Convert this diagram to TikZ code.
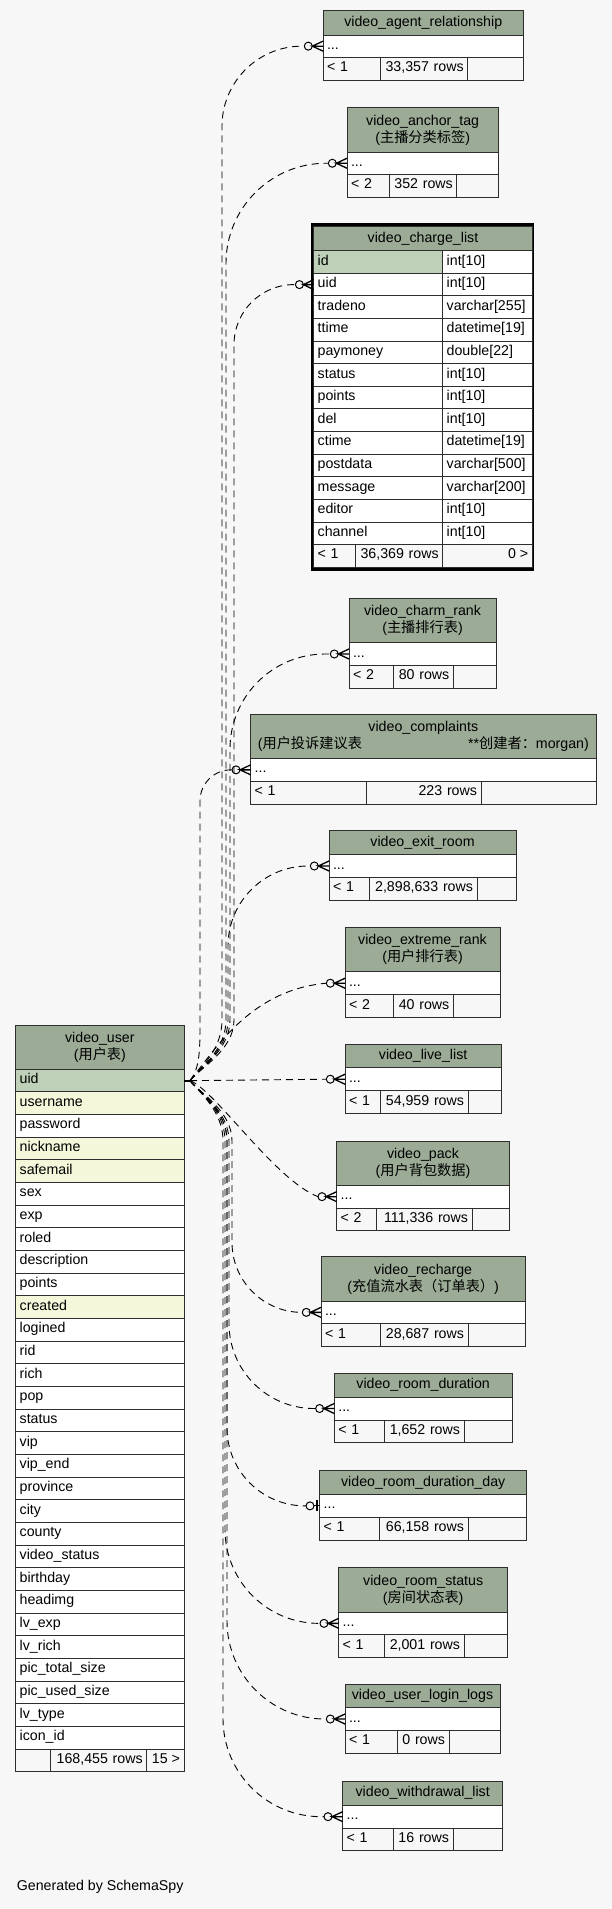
\documentclass[tikz,border=0pt]{standalone}
\usepackage{fontspec}
\setmainfont{Liberation Sans}
\newfontfamily\cjk{Noto Sans CJK SC}
\usepackage{tikz}
\usetikzlibrary{positioning,calc}
\definecolor{schemabg}{HTML}{F7F7F7}
\definecolor{tablehead}{HTML}{9BAB96}
\definecolor{primarykey}{HTML}{BED1B8}
\definecolor{indexcol}{HTML}{F4F7DA}
\definecolor{gridline}{HTML}{2E2E2E}

\tikzset{
  cellbox/.style={draw=gridline, line width=1pt, outer sep=0pt, inner xsep=4pt, inner ysep=0pt,
    anchor=north west, font=\fontsize{14.2}{17}\selectfont, text height=10pt, text depth=4pt},
  headbox/.style={draw=gridline, line width=1pt, outer sep=0pt, inner sep=0pt, anchor=north west,
    fill=tablehead, align=center, font=\fontsize{14.2}{17}\selectfont},
  odot/.style={circle, draw=black, fill=schemabg, line width=1pt, minimum size=8pt, inner sep=0pt, outer sep=0pt},
  reldash/.style={draw=black, line width=0.9pt, dash pattern=on 7pt off 5pt},
  crowline/.style={draw=black, line width=1.3pt},
}

% one cell: name, x, y, width, height, fill, align, text
\newcommand{\dbcell}[8]{%
  \pgfmathsetmacro{\cellw}{#4-8}%
  \node[cellbox, fill=#6, text width=\cellw pt, align=#7, minimum height=#5pt] (#1) at (#2,#3) {#8};}
% header and "..." row: name, x0, x1, ytop, yhead, yrow, title
\newcommand{\dbtop}[7]{%
  \pgfmathsetmacro{\tabw}{#3-#2}\pgfmathsetmacro{\headh}{#5-#4}\pgfmathsetmacro{\rowh}{#6-#5}%
  \node[headbox, minimum width=\tabw pt, minimum height=\headh pt] (#1-head) at (#2,#4) {#7};
  \dbcell{#1-row}{#2}{#5}{\tabw}{\rowh}{white}{left}{...}}
% footer: name, x0, split1, split2, x1, yrow, ybot, left text, rows text
\newcommand{\dbfoot}[9]{%
  \pgfmathsetmacro{\footh}{#7-#6}\pgfmathsetmacro{\footwa}{#3-#2}%
  \pgfmathsetmacro{\footwb}{#4-#3}\pgfmathsetmacro{\footwc}{#5-#4}%
  \dbcell{#1-fa}{#2}{#6}{\footwa}{\footh}{schemabg}{left}{#8}
  \dbcell{#1-fb}{#3}{#6}{\footwb}{\footh}{schemabg}{right}{#9}
  \dbcell{#1-fc}{#4}{#6}{\footwc}{\footh}{schemabg}{right}{}}
% crow's foot between circle and row
\newcommand{\crowfoot}[2]{%
  \draw[crowline] (#2.west) -- (#1.east) -- ($(#2.west)+(0,5)$) (#1.east) -- ($(#2.west)+(0,-5)$);}
% edge from uid: circle, column x, target y, corner radius
\newcommand{\upedge}[4]{%
  \draw[reldash] (uidtail) .. controls (200,1068) and (#2,1050) .. (#2,1020) -- (#2,{#3+#4})
    .. controls (#2,{#3+0.448*#4}) and ({#2+0.448*#4},#3) .. ({#2+#4},#3) -- (#1.west);}
\newcommand{\downedge}[4]{%
  \draw[reldash] (uidtail) .. controls (200,1093) and (#2,1111) .. (#2,1141) -- (#2,{#3-#4})
    .. controls (#2,{#3-0.448*#4}) and ({#2+0.448*#4},#3) .. ({#2+#4},#3) -- (#1.west);}

\begin{document}
\begin{tikzpicture}[x=1pt, y=-1pt]
  \path[use as bounding box, fill=schemabg] (0,0) rectangle (612,1909);

  % tables on the right
  \dbtop{agent}{323}{523.5}{10.3}{35}{57.3}{video\_agent\_relationship}
  \dbfoot{agent}{323}{380}{467.7}{523.5}{57.3}{80}{< 1}{33,357 rows}
  \dbtop{anchor}{347}{498.3}{107.7}{152}{174.5}{video\_anchor\_tag\\({\cjk 主播分类标签})}
  \dbfoot{anchor}{347}{389.3}{456.8}{498.3}{174.5}{197}{< 2}{352 rows}

  \node[draw=black, line width=2.7pt, outer sep=0pt, inner sep=0pt, minimum width=220.7pt,
    minimum height=344.7pt, anchor=north west] (charge-frame) at (312.35,224.65) {};
  \node[headbox, minimum width=218.6pt, minimum height=24.7pt] (charge-head) at (313.7,226) {video\_charge\_list};
  \dbcell{charge-id}{313.7}{250.70}{129}{22.61}{primarykey}{left}{id}
  \dbcell{charge-idt}{442.7}{250.70}{89.6}{22.61}{white}{left}{int[10]}
  \dbcell{charge-uid}{313.7}{273.31}{129}{22.61}{white}{left}{uid}
  \dbcell{charge-uidt}{442.7}{273.31}{89.6}{22.61}{white}{left}{int[10]}
  \dbcell{charge-tradeno}{313.7}{295.92}{129}{22.61}{white}{left}{tradeno}
  \dbcell{charge-tradenot}{442.7}{295.92}{89.6}{22.61}{white}{left}{varchar[255]}
  \dbcell{charge-ttime}{313.7}{318.53}{129}{22.61}{white}{left}{ttime}
  \dbcell{charge-ttimet}{442.7}{318.53}{89.6}{22.61}{white}{left}{datetime[19]}
  \dbcell{charge-paymoney}{313.7}{341.14}{129}{22.61}{white}{left}{paymoney}
  \dbcell{charge-paymoneyt}{442.7}{341.14}{89.6}{22.61}{white}{left}{double[22]}
  \dbcell{charge-status}{313.7}{363.75}{129}{22.61}{white}{left}{status}
  \dbcell{charge-statust}{442.7}{363.75}{89.6}{22.61}{white}{left}{int[10]}
  \dbcell{charge-points}{313.7}{386.36}{129}{22.61}{white}{left}{points}
  \dbcell{charge-pointst}{442.7}{386.36}{89.6}{22.61}{white}{left}{int[10]}
  \dbcell{charge-del}{313.7}{408.97}{129}{22.61}{white}{left}{del}
  \dbcell{charge-delt}{442.7}{408.97}{89.6}{22.61}{white}{left}{int[10]}
  \dbcell{charge-ctime}{313.7}{431.58}{129}{22.61}{white}{left}{ctime}
  \dbcell{charge-ctimet}{442.7}{431.58}{89.6}{22.61}{white}{left}{datetime[19]}
  \dbcell{charge-postdata}{313.7}{454.19}{129}{22.61}{white}{left}{postdata}
  \dbcell{charge-postdatat}{442.7}{454.19}{89.6}{22.61}{white}{left}{varchar[500]}
  \dbcell{charge-message}{313.7}{476.80}{129}{22.61}{white}{left}{message}
  \dbcell{charge-messaget}{442.7}{476.80}{89.6}{22.61}{white}{left}{varchar[200]}
  \dbcell{charge-editor}{313.7}{499.41}{129}{22.61}{white}{left}{editor}
  \dbcell{charge-editort}{442.7}{499.41}{89.6}{22.61}{white}{left}{int[10]}
  \dbcell{charge-channel}{313.7}{522.02}{129}{22.61}{white}{left}{channel}
  \dbcell{charge-channelt}{442.7}{522.02}{89.6}{22.61}{white}{left}{int[10]}
  \dbfoot{charge}{313.7}{355}{442.7}{532.3}{544.63}{567.24}{< 1}{36,369 rows}
  \node[cellbox, anchor=east, draw=none, inner xsep=0pt] (charge-next) at (528.3,555.9) {0 >};

  \dbtop{charm}{349}{496}{598.7}{642.7}{665.3}{video\_charm\_rank\\({\cjk 主播排行表})}
  \dbfoot{charm}{349}{393.3}{453.3}{496}{665.3}{688}{< 2}{80 rows}
  \dbtop{complaints}{250.7}{596}{714.7}{758.7}{781}{video\_complaints\\\makebox[331pt]{({\cjk 用户投诉建议表}\hfill **{\cjk 创建者：}morgan)}}
  \dbfoot{complaints}{250.7}{366.7}{481}{596}{781}{804}{< 1}{223 rows}
  \dbtop{exit}{329}{516}{830.7}{854.7}{877.3}{video\_exit\_room}
  \dbfoot{exit}{329}{369}{477}{516}{877.3}{900}{< 1}{2,898,633 rows}
  \dbtop{extreme}{345}{500}{927.7}{971.7}{994.7}{video\_extreme\_rank\\({\cjk 用户排行表})}
  \dbfoot{extreme}{345}{393}{453.3}{500}{994.7}{1017.3}{< 2}{40 rows}
  \dbtop{live}{345}{501.3}{1044}{1067.7}{1090.7}{video\_live\_list}
  \dbfoot{live}{345}{380}{468}{501.3}{1090.7}{1113.3}{< 1}{54,959 rows}
  \dbtop{pack}{336.7}{509.3}{1141.3}{1185.3}{1208}{video\_pack\\({\cjk 用户背包数据})}
  \dbfoot{pack}{336.7}{376}{472}{509.3}{1208}{1230.7}{< 2}{111,336 rows}
  \dbtop{recharge}{321}{525.3}{1256.7}{1301}{1323.7}{video\_recharge\\({\cjk 充值流水表（订单表）})}
  \dbfoot{recharge}{321}{380}{468}{525.3}{1323.7}{1346.7}{< 1}{28,687 rows}
  \dbtop{duration}{334.3}{512}{1373}{1397}{1420}{video\_room\_duration}
  \dbfoot{duration}{334.3}{384}{464}{512}{1420}{1442.7}{< 1}{1,652 rows}
  \dbtop{rdd}{319.7}{526.7}{1470.3}{1494.7}{1517}{video\_room\_duration\_day}
  \dbfoot{rdd}{319.7}{379.7}{468}{526.7}{1517}{1540}{< 1}{66,158 rows}
  \dbtop{roomstatus}{338.7}{507.7}{1567.7}{1612}{1634.7}{video\_room\_status\\({\cjk 房间状态表})}
  \dbfoot{roomstatus}{338.7}{384}{464}{507.7}{1634.7}{1657.3}{< 1}{2,001 rows}
  \dbtop{login}{345}{500}{1684}{1707.7}{1730.3}{video\_user\_login\_logs}
  \dbfoot{login}{345}{397}{449}{500}{1730.3}{1753}{< 1}{0 rows}
  \dbtop{withdrawal}{342.7}{502.7}{1781}{1805.3}{1828}{video\_withdrawal\_list}
  \dbfoot{withdrawal}{342.7}{393}{453}{502.7}{1828}{1850.7}{< 1}{16 rows}

  % video_user
  \node[headbox, minimum width=168.3pt, minimum height=44.3pt] (user-head) at (15.7,1025) {video\_user\\({\cjk 用户表})};
  \dbcell{user-uid}{15.7}{1069.30}{168.3}{22.66}{primarykey}{left}{uid}
  \dbcell{user-username}{15.7}{1091.96}{168.3}{22.66}{indexcol}{left}{username}
  \dbcell{user-password}{15.7}{1114.62}{168.3}{22.66}{white}{left}{password}
  \dbcell{user-nickname}{15.7}{1137.28}{168.3}{22.66}{indexcol}{left}{nickname}
  \dbcell{user-safemail}{15.7}{1159.94}{168.3}{22.66}{indexcol}{left}{safemail}
  \dbcell{user-sex}{15.7}{1182.60}{168.3}{22.66}{white}{left}{sex}
  \dbcell{user-exp}{15.7}{1205.26}{168.3}{22.66}{white}{left}{exp}
  \dbcell{user-roled}{15.7}{1227.92}{168.3}{22.66}{white}{left}{roled}
  \dbcell{user-description}{15.7}{1250.58}{168.3}{22.66}{white}{left}{description}
  \dbcell{user-points}{15.7}{1273.24}{168.3}{22.66}{white}{left}{points}
  \dbcell{user-created}{15.7}{1295.90}{168.3}{22.66}{indexcol}{left}{created}
  \dbcell{user-logined}{15.7}{1318.56}{168.3}{22.66}{white}{left}{logined}
  \dbcell{user-rid}{15.7}{1341.22}{168.3}{22.66}{white}{left}{rid}
  \dbcell{user-rich}{15.7}{1363.88}{168.3}{22.66}{white}{left}{rich}
  \dbcell{user-pop}{15.7}{1386.54}{168.3}{22.66}{white}{left}{pop}
  \dbcell{user-status}{15.7}{1409.20}{168.3}{22.66}{white}{left}{status}
  \dbcell{user-vip}{15.7}{1431.86}{168.3}{22.66}{white}{left}{vip}
  \dbcell{user-vipend}{15.7}{1454.52}{168.3}{22.66}{white}{left}{vip\_end}
  \dbcell{user-province}{15.7}{1477.18}{168.3}{22.66}{white}{left}{province}
  \dbcell{user-city}{15.7}{1499.84}{168.3}{22.66}{white}{left}{city}
  \dbcell{user-county}{15.7}{1522.50}{168.3}{22.66}{white}{left}{county}
  \dbcell{user-videostatus}{15.7}{1545.16}{168.3}{22.66}{white}{left}{video\_status}
  \dbcell{user-birthday}{15.7}{1567.82}{168.3}{22.66}{white}{left}{birthday}
  \dbcell{user-headimg}{15.7}{1590.48}{168.3}{22.66}{white}{left}{headimg}
  \dbcell{user-lvexp}{15.7}{1613.14}{168.3}{22.66}{white}{left}{lv\_exp}
  \dbcell{user-lvrich}{15.7}{1635.80}{168.3}{22.66}{white}{left}{lv\_rich}
  \dbcell{user-pictotal}{15.7}{1658.46}{168.3}{22.66}{white}{left}{pic\_total\_size}
  \dbcell{user-picused}{15.7}{1681.12}{168.3}{22.66}{white}{left}{pic\_used\_size}
  \dbcell{user-lvtype}{15.7}{1703.78}{168.3}{22.66}{white}{left}{lv\_type}
  \dbcell{user-iconid}{15.7}{1726.44}{168.3}{22.66}{white}{left}{icon\_id}
  \dbfoot{user}{15.7}{50.7}{146.7}{184}{1749.10}{1771.76}{}{168,455 rows}
  \node[cellbox, anchor=east, draw=none, inner xsep=0pt] (user-next) at (180,1760.4) {15 >};

  \node[anchor=west, font=\fontsize{14.2}{17}\selectfont, inner sep=0pt] (credit) at (16.7,1887.3) {Generated by SchemaSpy};

  % circles and crow's feet
  \node[odot, left=10.7pt of agent-row.west] (agent-o) {};
  \node[odot, left=10.7pt of anchor-row.west] (anchor-o) {};
  \node[odot, left=10.3pt of charge-uid.west] (charge-o) {};
  \node[odot, left=10.7pt of charm-row.west] (charm-o) {};
  \node[odot, left=10.7pt of complaints-row.west] (complaints-o) {};
  \node[odot, left=10.7pt of exit-row.west] (exit-o) {};
  \node[odot, left=10.7pt of extreme-row.west] (extreme-o) {};
  \node[odot, left=10.7pt of live-row.west] (live-o) {};
  \node[odot, left=10.7pt of pack-row.west] (pack-o) {};
  \node[odot, left=10.7pt of recharge-row.west] (recharge-o) {};
  \node[odot, left=10.7pt of duration-row.west] (duration-o) {};
  \node[odot, left=5.7pt of rdd-row.west] (rdd-o) {};
  \node[odot, left=10.7pt of roomstatus-row.west] (roomstatus-o) {};
  \node[odot, left=10.7pt of login-row.west] (login-o) {};
  \node[odot, left=10.7pt of withdrawal-row.west] (withdrawal-o) {};
  \crowfoot{agent-o}{agent-row}
  \crowfoot{anchor-o}{anchor-row}
  \crowfoot{charge-o}{charge-uid}
  \crowfoot{charm-o}{charm-row}
  \crowfoot{complaints-o}{complaints-row}
  \crowfoot{exit-o}{exit-row}
  \crowfoot{extreme-o}{extreme-row}
  \crowfoot{live-o}{live-row}
  \crowfoot{pack-o}{pack-row}
  \crowfoot{recharge-o}{recharge-row}
  \crowfoot{duration-o}{duration-row}
  \crowfoot{roomstatus-o}{roomstatus-row}
  \crowfoot{login-o}{login-row}
  \crowfoot{withdrawal-o}{withdrawal-row}
  \draw[line width=1pt] (rdd-o.east) -- (rdd-row.west);
  \draw[line width=2pt] ($(rdd-row.west)+(-2.5,-5.5)$) -- ($(rdd-row.west)+(-2.5,5.5)$);

  % relationships from uid
  \coordinate (uidtail) at ($(user-uid.east)+(6,0)$);
  \draw[line width=2pt] (user-uid.east) -- (uidtail);
  \upedge{agent-o}{222}{46.15}{80}
  \upedge{anchor-o}{226}{163.25}{100}
  \upedge{charge-o}{234}{284.6}{60}
  \upedge{charm-o}{230}{654}{95}
  \upedge{complaints-o}{200}{769.85}{31}
  \upedge{exit-o}{228}{866}{80}
  \draw[reldash] (uidtail) .. controls (215,1050) and (250,990) .. (extreme-o.west);
  \draw[reldash] (uidtail) -- (live-o.west);
  \draw[reldash] (uidtail) .. controls (215,1090) and (275,1180) .. (pack-o.west);
  \downedge{recharge-o}{232}{1312.35}{70}
  \downedge{duration-o}{229}{1408.5}{85}
  \downedge{rdd-o}{227}{1505.85}{78}
  \downedge{roomstatus-o}{225}{1623.35}{94}
  \downedge{login-o}{227}{1719}{98}
  \downedge{withdrawal-o}{223}{1816.65}{98}
\end{tikzpicture}
\end{document}
